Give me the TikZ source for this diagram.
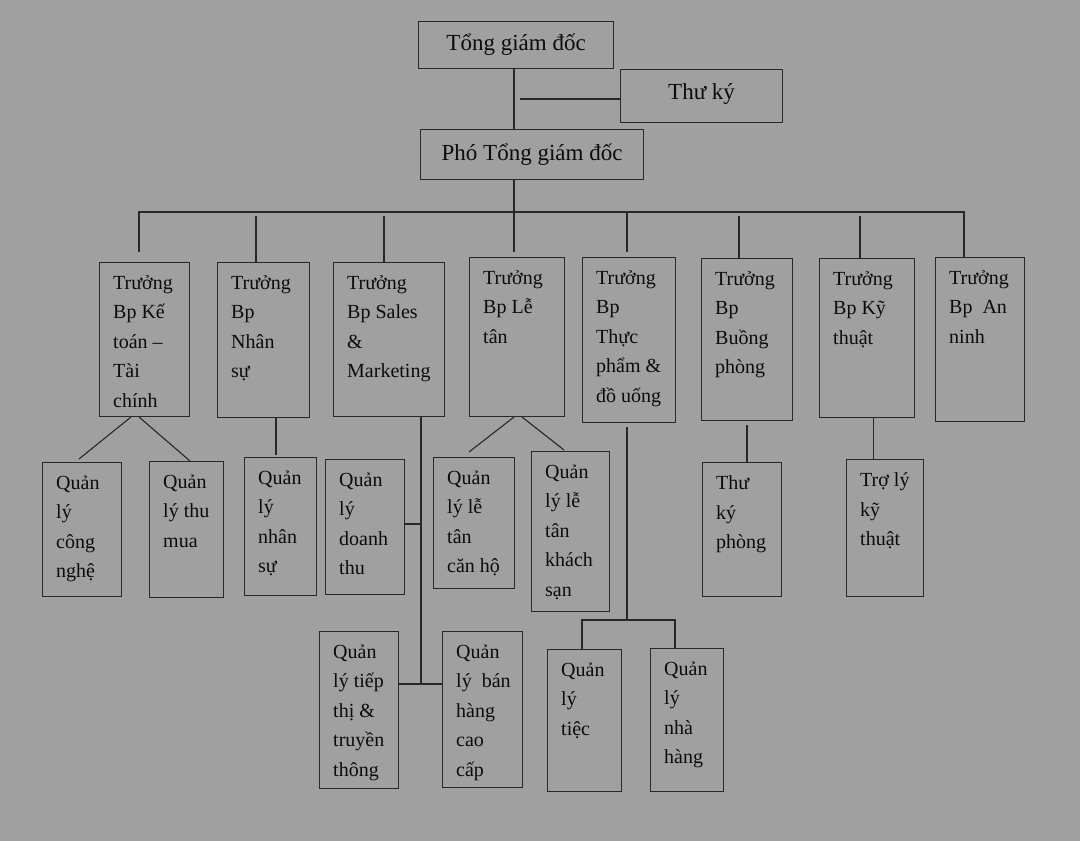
\documentclass[tikz,border=0pt]{standalone}
\usepackage{fontspec}
\setmainfont{Liberation Serif}
\usetikzlibrary{calc}
\definecolor{bgc}{RGB}{160,160,160}
\definecolor{lnc}{RGB}{40,40,40}
\definecolor{txc}{RGB}{12,12,12}
\newcommand\orgbox[6]{%
  \node[box, minimum width=#4pt, minimum height=#5pt] (#1) at (#2,#3) {};
  \node[txt] (#1t) at ([xshift=14pt,yshift=-13.5pt]#1.north west) {#6};
}
\begin{document}
\begin{tikzpicture}[x=1pt,y=-1pt,
  box/.style={draw=lnc, line width=1.2pt, inner sep=0pt, anchor=north west},
  ttl/.style={draw=lnc, line width=1.2pt, inner sep=0pt, anchor=north west, text=txc, font=\fontsize{23}{28}\selectfont},
  txt/.style={anchor=north west, align=left, inner sep=0pt, text=txc, font=\fontsize{20}{29.5}\selectfont, execute at begin node=\strut},
  conn/.style={draw=lnc, line width=1.1pt}]
\path[fill=bgc, use as bounding box] (0,0) rectangle (1080,841);

% top level
\node[ttl, minimum width=195pt, minimum height=47pt] (tgd) at (418,21) {\raisebox{2pt}{Tổng giám đốc}};
\node[ttl, minimum width=162pt, minimum height=53pt] (tk) at (620,69) {\raisebox{10pt}{Thư ký}};
\node[ttl, minimum width=223pt, minimum height=50pt] (pho) at (420,129) {\raisebox{4pt}{Phó Tổng giám đốc}};

% level 2
\orgbox{kt}{99}{262}{90}{154}{Trưởng\\Bp Kế\\toán –\\Tài\\chính}
\orgbox{ns}{217}{262}{92}{155}{Trưởng\\Bp\\Nhân\\sự}
\orgbox{sm}{333}{262}{111}{154}{Trưởng\\Bp Sales\\\&\\Marketing}
\orgbox{lt}{469}{257}{95}{159}{Trưởng\\Bp Lễ\\tân}
\orgbox{fb}{582}{257}{93}{165}{Trưởng\\Bp\\Thực\\phẩm \&\\đồ uống}
\orgbox{bp}{701}{258}{91}{162}{Trưởng\\Bp\\Buồng\\phòng}
\orgbox{kth}{819}{258}{95}{159}{Trưởng\\Bp Kỹ\\thuật}
\orgbox{an}{935}{257}{89}{164}{Trưởng\\Bp\ \ An\\ninh}

% level 3
\orgbox{cn}{42}{462}{79}{134}{Quản\\lý\\công\\nghệ}
\orgbox{tm}{149}{461}{74}{136}{Quản\\lý thu\\mua}
\orgbox{nsu}{244}{457}{72}{138}{Quản\\lý\\nhân\\sự}
\orgbox{dt}{325}{459}{79}{135}{Quản\\lý\\doanh\\thu}
\orgbox{tt}{319}{631}{79}{157}{Quản\\lý tiếp\\thị \&\\truyền\\thông}
\orgbox{bh}{442}{631}{80}{156}{Quản\\lý\ \ bán\\hàng\\cao\\cấp}
\orgbox{ch}{433}{457}{81}{131}{Quản\\lý lễ\\tân\\căn hộ}
\orgbox{ks}{531}{451}{78}{160}{Quản\\lý lễ\\tân\\khách\\sạn}
\orgbox{ti}{547}{649}{74}{142}{Quản\\lý\\tiệc}
\orgbox{nh}{650}{648}{73}{143}{Quản\\lý\\nhà\\hàng}
\orgbox{tkp}{702}{462}{79}{134}{Thư\\ký\\phòng}
\orgbox{tl}{846}{459}{77}{137}{Trợ lý\\kỹ\\thuật}

% coordinates
\coordinate (spine) at (514,0);
\coordinate (tkst) at (520,99);
\coordinate (ltend) at (514,252);
\coordinate (busL) at (139,212);
\coordinate (busR) at (964,212);
\coordinate (sv) at (421,684);
\coordinate (svst) at (421,524);
\coordinate (fbv) at (627,427);
\coordinate (fbh) at (627,620);
\coordinate (tiv) at (582,620);
\coordinate (nhv) at (675,620);

% top connectors
\draw[conn] (tgd.south -| spine) -- (pho.north -| spine);
\draw[conn] (tkst) -- (tkst -| tk.west);
\draw[conn] (pho.south -| spine) -- (ltend);
\draw[conn] (139,252) -- (busL) -- (busR) -- (an.north -| busR);
\draw[conn] (256,216) -- (ns.north -| 256,0);
\draw[conn] (384,216) -- (sm.north -| 384,0);
\draw[conn] (627,212) -- (627,252);
\draw[conn] (739,216) -- (bp.north -| 739,0);
\draw[conn] (860,216) -- (kth.north -| 860,0);

% level 3 connectors
\draw[conn] (131,417) -- (79,459);
\draw[conn] (139,417) -- (tm.north -| 190,0);
\draw[conn] (276,417) -- (276,455);
\draw[conn] (sm.south -| sv) -- (sv);
\draw[conn] (dt.east |- svst) -- (svst);
\draw[conn] (tt.east |- sv) -- (bh.west |- sv);
\draw[conn] (514,417) -- (469,452);
\draw[conn] (522,417) -- (564,450);
\draw[conn] (fbv) -- (fbh);
\draw[conn] (ti.north -| tiv) -- (tiv) -- (nhv) -- (nh.north -| nhv);
\draw[conn] (747,425) -- (tkp.north -| 747,0);
\draw[conn] (873.5,417) -- (tl.north -| 873.5,0);
\end{tikzpicture}
\end{document}
